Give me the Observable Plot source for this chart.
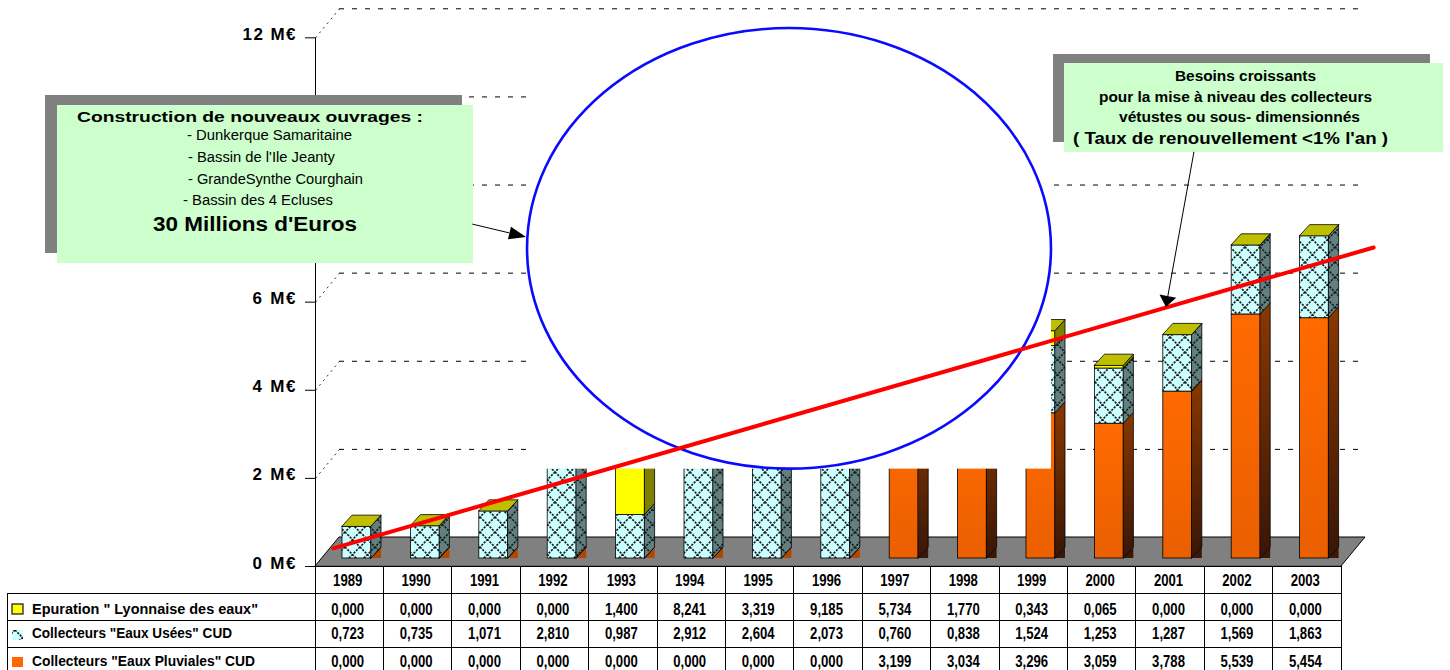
<!DOCTYPE html>
<html lang="fr">
<head>
<meta charset="utf-8">
<script src="https://cdn.jsdelivr.net/npm/d3@7"></script>
<script src="https://cdn.jsdelivr.net/npm/@observablehq/plot@0.6"></script>
<style>
  html, body { margin: 0; padding: 0; background: #fff; }
  #chart { width: 1450px; height: 670px; overflow: hidden; }
  #chart svg { display: block; }
</style>
</head>
<body>
<div id="chart"></div>
<script>
// Investissements annuels (M€) par poste, 1989–2003
const years = [1989, 1990, 1991, 1992, 1993, 1994, 1995, 1996, 1997, 1998, 1999, 2000, 2001, 2002, 2003];
const epuration = [0.000, 0.000, 0.000, 0.000, 1.400, 8.241, 3.319, 9.185, 5.734, 1.770, 0.343, 0.065, 0.000, 0.000, 0.000];
const usees = [0.723, 0.735, 1.071, 2.810, 0.987, 2.912, 2.604, 2.073, 0.760, 0.838, 1.524, 1.253, 1.287, 1.569, 1.863];
const pluviales = [0.000, 0.000, 0.000, 0.000, 0.000, 0.000, 0.000, 0.000, 3.199, 3.034, 3.296, 3.059, 3.788, 5.539, 5.454];
const seriesLabels = ['Epuration " Lyonnaise des eaux"', 'Collecteurs "Eaux Usées" CUD', 'Collecteurs "Eaux Pluviales" CUD'];
const gridValues = [2, 4, 6, 8, 10, 12];
const axisLabelValues = [0, 2, 4, 6, 12];   // 8 and 10 sit under the left note

// Trend line drawn over the bars (year, M€)
const trendYears = [1988.76, 2003.97];
const trendValues = [0.41, 7.24];
// Ellipse highlighting the 1993–1999 works (centre and radii, in years / M€)
const zoneCenter = [1995.43, 7.21];
const zoneRadii = [3.83, 5.0];
// Callout arrows (year, M€)
const leftArrow = [[1990.80, 7.76], [1991.585, 7.47]];
const rightArrow = [[2001.35, 9.40], [2000.94, 5.88]];

const leftNote = ["Construction de nouveaux ouvrages :", "- Dunkerque Samaritaine", "- Bassin de l'Ile Jeanty",
  "- GrandeSynthe Courghain", "- Bassin des 4 Ecluses", "30 Millions d'Euros"];
const rightNote = ["Besoins croissants", "pour la mise à niveau des collecteurs",
  "vétustes ou sous- dimensionnés", "( Taux de renouvellement <1% l'an )"];

// ---- layout ----
const W = 1450, H = 670;
const M = {left: 315, right: 109, top: 37.3, bottom: 104};
const xDomain = [years[0] - 0.5, years[years.length - 1] + 0.5];
const pxYear = (W - M.left - M.right) / (xDomain[1] - xDomain[0]);
const pxM = (H - M.top - M.bottom) / 12;
const BAR_L = -7.2 / pxYear, BAR_R = 21.8 / pxYear;   // front face of each bar
const DEPTH_X = 10 / pxYear, DEPTH_Y = 11 / pxM;      // bar depth
const BAR_DY = -8;                                    // bars stand inside the floor
const WALL_X = 24 / pxYear, WALL_Y = 29 / pxM;        // floor / back wall depth
const FONT = "'Liberation Sans', Arial, Helvetica, sans-serif";

const fmtFr = v => d3.format(".3f")(v).replace(".", ",");

// stacked segments, bottom to top
const series = [
  {key: "pluv", values: pluviales},
  {key: "usees", values: usees},
  {key: "epu", values: epuration}
];
const segs = [];
const totals = years.map((yr, i) => {
  let base = 0;
  for (const s of series) {
    const v = s.values[i];
    segs.push({year: yr, key: s.key, lo: base, hi: base + v});
    base += v;
  }
  return base;
});
const fronts = key => segs.filter(s => s.key === key);
const sides = key => segs.filter(s => s.key === key).flatMap(s => [
  {year: s.year, x: s.year + BAR_R, y1: s.lo, y2: s.hi},
  {year: s.year, x: s.year + BAR_R + DEPTH_X, y1: s.lo + DEPTH_Y, y2: s.hi + DEPTH_Y}
]);
const feet = dark => years.flatMap((yr, i) => (pluviales[i] > 0) === dark ? [
  {year: yr, x: yr + BAR_R, y1: 0, y2: 0},
  {year: yr, x: yr + BAR_R + DEPTH_X, y1: 0, y2: DEPTH_Y}
] : []);
const tops = years.flatMap((yr, i) => [
  {year: yr, y: totals[i], x1: yr + BAR_L, x2: yr + BAR_R},
  {year: yr, y: totals[i] + DEPTH_Y, x1: yr + BAR_L + DEPTH_X, x2: yr + BAR_R + DEPTH_X}
]);

const edge = {stroke: "#000", strokeWidth: 0.8, dy: BAR_DY};
const barX = {x1: d => d.year + BAR_L, x2: d => d.year + BAR_R, y1: "lo", y2: "hi"};
const sideOpts = {x: "x", y1: "y1", y2: "y2", z: "year"};
const tableRowsDy = [48.3, 72.3, 100];
const tableRows = [epuration, usees, pluviales];
const cellText = {x: d => d, frameAnchor: "bottom", lineAnchor: "bottom", dx: -2,
  fontSize: 16, fontWeight: "bold", ariaDescription: "table-cell"};

const svg = Plot.plot({
  width: W, height: H,
  marginLeft: M.left, marginRight: M.right, marginTop: M.top, marginBottom: M.bottom,
  style: {fontFamily: FONT, background: "#fff"},
  x: {type: "linear", domain: xDomain, axis: null},
  y: {type: "linear", domain: [0, 12]},
  marks: [
    // back wall gridlines and their short diagonal connectors
    Plot.ruleY(gridValues, {x1: () => xDomain[0], x2: () => xDomain[1], dx: 24, dy: -29,
      stroke: "#000", strokeWidth: 1, strokeDasharray: "5,8"}),
    Plot.link(gridValues, {x1: () => xDomain[0], x2: () => xDomain[0] + WALL_X,
      y1: d => d, y2: d => d + WALL_Y, stroke: "#000", strokeWidth: 0.8, strokeDasharray: "2,4"}),
    // floor
    Plot.areaX([{y: 0, x1: xDomain[0], x2: xDomain[1]}, {y: WALL_Y, x1: xDomain[0] + WALL_X, x2: xDomain[1] + WALL_X}],
      {y: "y", x1: "x1", x2: "x2", fill: "#808080", stroke: "#000", strokeWidth: 1}),
    // bar feet
    Plot.areaY(feet(false), {...sideOpts, fill: "#b04600", dy: BAR_DY}),
    Plot.areaY(feet(true), {...sideOpts, fill: "#3a1806", dy: BAR_DY}),
    // Eaux Pluviales
    Plot.rect(fronts("pluv"), {...barX, fill: "url(#pluvFront)", ...edge}),
    Plot.areaY(sides("pluv"), {...sideOpts, fill: "url(#pluvSide)", ...edge}),
    // Eaux Usées
    Plot.rect(fronts("usees"), {...barX, fill: "url(#useesFront)", ...edge}),
    Plot.areaY(sides("usees"), {...sideOpts, fill: "url(#useesSide)", ...edge}),
    // Epuration
    Plot.rect(fronts("epu"), {...barX, fill: "#ffff00", ...edge}),
    Plot.areaY(sides("epu"), {...sideOpts, fill: "#808000", ...edge}),
    // bar tops
    Plot.areaX(tops, {y: "y", x1: "x1", x2: "x2", z: "year", fill: "#bfbf00", ...edge}),
    // white backdrop of the highlighted zone
    Plot.rect([zoneCenter], {x1: d => d[0] - zoneRadii[0], x2: d => d[0] + zoneRadii[0],
      y1: d => d[1] - zoneRadii[1], y2: d => d[1] + zoneRadii[1], fill: "#fff"}),
    // trend line
    Plot.line(trendYears, {x: d => d, y: (d, i) => trendValues[i], stroke: "#ff0000", strokeWidth: 4}),
    // value axis
    Plot.ruleX([xDomain[0]], {y1: () => 0, y2: () => 12, stroke: "#000", strokeWidth: 1}),
    Plot.axisY({ticks: axisLabelValues, tickFormat: d => `${d} M€`, tickSize: 10, tickPadding: 10,
      fontSize: 17, fontWeight: "bold", label: null, anchor: "left"}),
    // data table
    Plot.text(years, {...cellText, text: d => String(d), dy: 585 - (H - M.bottom)}),
    ...tableRows.map((vals, r) => Plot.text(years, {...cellText, text: (d, i) => fmtFr(vals[i]), dy: tableRowsDy[r]}))
  ]
});
document.getElementById("chart").append(svg);

const root = d3.select(svg);
const sx = d3.scaleLinear().domain(xDomain).range([M.left, W - M.right]);
const sy = d3.scaleLinear().domain([0, 12]).range([H - M.bottom, M.top]);

// fills: gradients and lattice patterns
const defs = root.insert("defs", ":first-child");
function gradient(id, c0, c1) {
  const g = defs.append("linearGradient").attr("id", id).attr("x1", 0).attr("y1", 0).attr("x2", 0).attr("y2", 1);
  g.append("stop").attr("offset", 0).attr("stop-color", c0);
  g.append("stop").attr("offset", 1).attr("stop-color", c1);
}
gradient("pluvFront", "#ff6a00", "#ea5f00");
gradient("pluvSide", "#8a3800", "#381606");
function lattice(id, bg, ink) {
  const p = defs.append("pattern").attr("id", id).attr("patternUnits", "userSpaceOnUse")
    .attr("width", 15).attr("height", 15);
  p.append("rect").attr("width", 15).attr("height", 15).attr("fill", bg);
  p.append("path").attr("d", "M0,0L15,15M15,0L0,15").attr("stroke", ink)
    .attr("stroke-width", 1.6).attr("stroke-dasharray", "2.2,1.2").attr("fill", "none");
}
lattice("useesFront", "#ccffff", "#1a1a1a");
lattice("useesSide", "#637f7f", "#101c1c");

// axis labels
root.selectAll('g[aria-label="y-axis tick label"] text').each(function () {
  d3.select(this).attr("font-weight", "bold").attr("dy", "-0.2em")
    .attr("textLength", this.textContent.length > 4 ? 53 : 43).attr("lengthAdjust", "spacing");
});

// narrow table figures
root.selectAll('g[aria-description="table-cell"] text').each(function () {
  const len = this.getComputedTextLength();
  d3.select(this).attr("textLength", len * 0.82).attr("lengthAdjust", "spacingAndGlyphs");
});

// ellipse, under the trend line
root.insert("ellipse", 'g[aria-label="line"]')
  .attr("cx", sx(zoneCenter[0])).attr("cy", sy(zoneCenter[1]))
  .attr("rx", sx(zoneCenter[0] + zoneRadii[0]) - sx(zoneCenter[0]))
  .attr("ry", sy(zoneCenter[1]) - sy(zoneCenter[1] + zoneRadii[1]))
  .attr("fill", "none").attr("stroke", "#0a0aff").attr("stroke-width", 2.6);

// callout boxes
const notes = root.append("g").attr("font-family", FONT).attr("fill", "#000").attr("text-anchor", "start");
function callout(shadow, box, lines, layout) {
  notes.append("rect").attr("x", shadow[0]).attr("y", shadow[1]).attr("width", shadow[2]).attr("height", shadow[3]).attr("fill", "#808080");
  notes.append("rect").attr("x", box[0]).attr("y", box[1]).attr("width", box[2]).attr("height", box[3]).attr("fill", "#ccffcc");
  lines.forEach((txt, i) => {
    const [x, y, len, size, weight] = layout[i];
    notes.append("text").attr("x", x).attr("y", y).attr("font-size", size).attr("font-weight", weight)
      .attr("text-anchor", "start").attr("textLength", len).attr("lengthAdjust", "spacingAndGlyphs").text(txt);
  });
}
callout([45, 95, 417, 158], [57, 105, 416, 158], leftNote, [
  [77, 121.5, 346, 15.5, "bold"],
  [187, 140, 165, 14, "normal"],
  [188, 162, 147, 14, "normal"],
  [188, 183.5, 175, 14, "normal"],
  [183, 204.5, 150, 14, "normal"],
  [153, 231, 204, 19.5, "bold"]
]);
callout([1053, 54, 377, 88], [1064, 63, 379, 89], rightNote, [
  [1175, 81, 141, 14, "bold"],
  [1099, 101.7, 273, 14, "bold"],
  [1119, 122.3, 241, 14, "bold"],
  [1073, 144, 315, 16, "bold"]
]);

// arrows with filled heads
function arrow(p0, p1, len, half) {
  const x0 = sx(p0[0]), y0 = sy(p0[1]), x1 = sx(p1[0]), y1 = sy(p1[1]);
  const a = Math.atan2(y1 - y0, x1 - x0), c = Math.cos(a), s = Math.sin(a);
  const bx = x1 - len * c, by = y1 - len * s;
  root.append("line").attr("x1", x0).attr("y1", y0).attr("x2", bx).attr("y2", by)
    .attr("stroke", "#000").attr("stroke-width", 1);
  root.append("path").attr("d", `M${x1},${y1}L${bx + half * s},${by - half * c}L${bx - half * s},${by + half * c}Z`)
    .attr("fill", "#000");
}
arrow(leftArrow[0], leftArrow[1], 17, 6.5);
arrow(rightArrow[0], rightArrow[1], 11, 8.5);

// table grid
const grid = root.append("g").attr("stroke", "#000").attr("stroke-width", 1).attr("shape-rendering", "crispEdges");
const tableTop = H - M.bottom, rowH = 27, tableLeft = 7, tableBottom = tableTop + 4 * rowH;
grid.append("line").attr("x1", sx(xDomain[0])).attr("x2", sx(xDomain[1])).attr("y1", tableTop).attr("y2", tableTop);
for (let r = 1; r <= 4; r++) {
  grid.append("line").attr("x1", tableLeft).attr("x2", sx(xDomain[1]))
    .attr("y1", tableTop + r * rowH).attr("y2", tableTop + r * rowH);
}
[...years.map(y => y - 0.5), xDomain[1]].forEach(b => {
  grid.append("line").attr("x1", sx(b)).attr("x2", sx(b)).attr("y1", tableTop).attr("y2", tableBottom);
});
grid.append("line").attr("x1", tableLeft).attr("x2", tableLeft).attr("y1", tableTop + rowH).attr("y2", tableBottom);

// row labels with swatches
const legend = root.append("g").attr("font-family", FONT).attr("font-weight", "bold").attr("font-size", 15)
  .attr("text-anchor", "start");
const swatchFill = ["#ffff00", "url(#useesFront)", "#ff6600"];
const swatchY = [604, 630, 657];
const labelBase = [614.3, 638.3, 666];
const labelLen = [226, 200, 223];
seriesLabels.forEach((lab, i) => {
  legend.append("rect").attr("x", 12).attr("y", swatchY[i]).attr("width", 11).attr("height", 10)
    .attr("fill", swatchFill[i]).attr("stroke", i === 0 ? "#333" : "none").attr("stroke-width", 1.4);
  legend.append("text").attr("x", 32).attr("y", labelBase[i]).attr("textLength", labelLen[i])
    .attr("lengthAdjust", "spacingAndGlyphs").text(lab);
});
</script>
</body>
</html>
